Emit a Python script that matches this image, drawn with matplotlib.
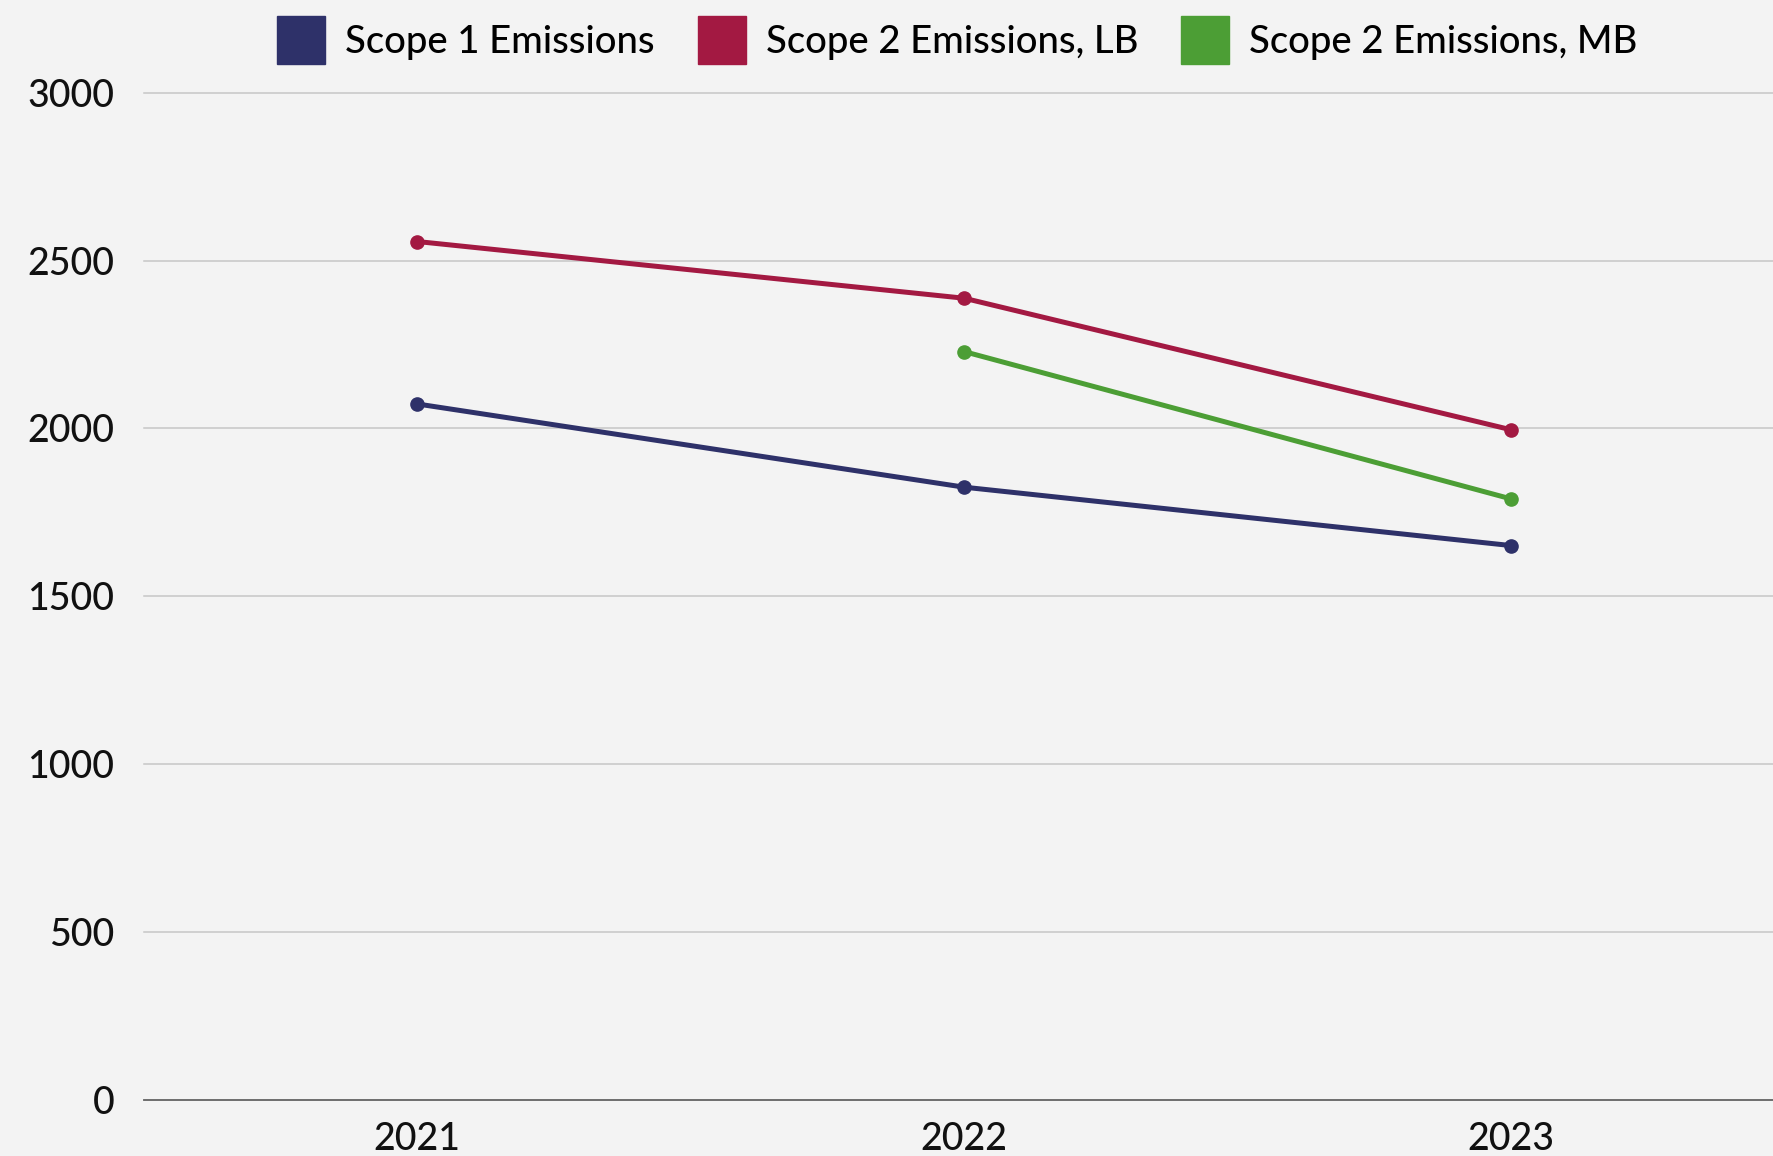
import matplotlib
matplotlib.use("Agg")
import matplotlib.pyplot as plt
from matplotlib.lines import Line2D

years = ["2021", "2022", "2023"]
scope1 = [2073, 1825, 1651]
scope2_lb = [2557, 2388, 1996]
scope2_mb = [None, 2229, 1790]
series_names = ["Scope 1 Emissions", "Scope 2 Emissions, LB", "Scope 2 Emissions, MB"]
colors = ["#2e3169", "#a31942", "#4c9e35"]
yticks = [0, 500, 1000, 1500, 2000, 2500, 3000]

plt.rcParams['font.family'] = ['Lato', 'DejaVu Sans']
plt.rcParams['font.weight'] = 'medium'
bg = "#f3f3f3"
fig = plt.figure(figsize=(17.74, 11.56), dpi=100, facecolor=bg)
ax = fig.add_axes([0.081, 0.0487, 0.925, 0.871])
ax.set_facecolor(bg)

x = list(range(len(years)))
data = [scope1, scope2_lb, scope2_mb]
for vals, c in zip(data, colors):
    xs = [xi for xi, v in zip(x, vals) if v is not None]
    ys = [v for v in vals if v is not None]
    ax.plot(xs, ys, color=c, lw=3.6, marker="o", ms=9.5, zorder=3)

ax.set_xlim(-0.5, 2.5)
ax.set_ylim(0, 3000)
ax.set_yticks(yticks)
ax.set_yticklabels([str(t) for t in yticks])
ax.set_xticks(x)
ax.set_xticklabels(years)
ax.grid(axis="y", color="#c6c6c6", lw=1.1, clip_on=False)
ax.set_axisbelow(True)
for s in ["top", "right", "left"]:
    ax.spines[s].set_visible(False)
ax.spines["bottom"].set_color("#666666")
ax.spines["bottom"].set_linewidth(1.3)
ax.tick_params(axis="both", length=0, labelsize=27, colors="#111111")
ax.tick_params(axis="y", pad=21)
ax.tick_params(axis="x", pad=16)
for gl in ax.get_ygridlines():
    gl.set_clip_on(False)

handles = [Line2D([], [], ls="none", marker="s", ms=34, color=c) for c in colors]
fig.legend(handles, series_names, loc="center", bbox_to_anchor=(0.541, 0.963), ncol=3,
           frameon=False, fontsize=27.5, handlelength=1.0, handletextpad=0.65,
           columnspacing=1.25, borderaxespad=0)

fig.savefig("out.png", dpi=100, facecolor=bg)
